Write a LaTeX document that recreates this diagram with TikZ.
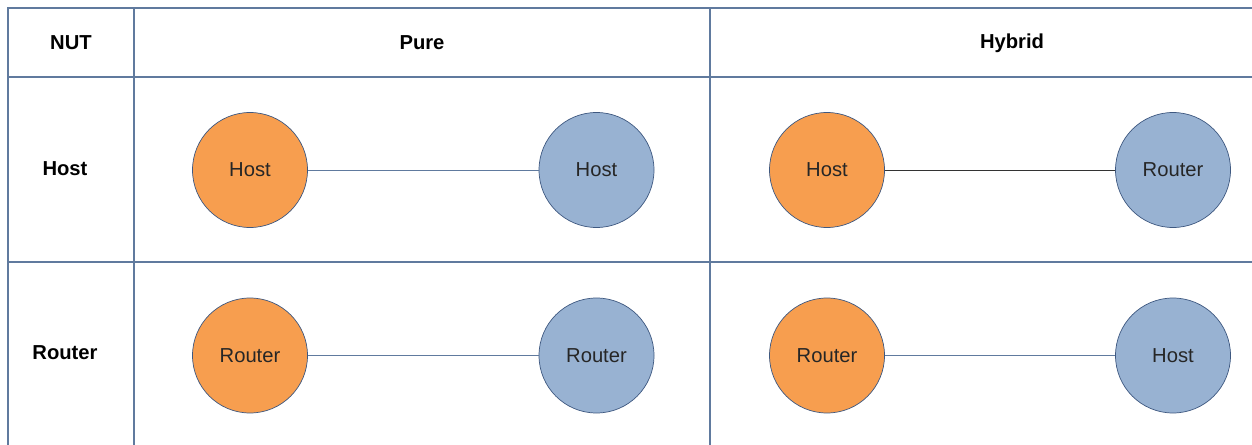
\documentclass[tikz,border=0pt]{standalone}
\usepackage{fontspec}
\setmainfont{Liberation Sans}
\usepackage{xcolor}
\usepackage{tikz}
\usetikzlibrary{positioning,shapes.geometric}

\definecolor{gridline}{RGB}{96,122,158}
\definecolor{nutorange}{RGB}{247,158,79}
\definecolor{peerblue}{RGB}{152,178,210}
\definecolor{rimblue}{RGB}{62,88,128}

\begin{document}
\begin{tikzpicture}[
    head/.style={font=\bfseries\fontsize{11.5}{13}\selectfont, text=black},
    nut/.style={draw=rimblue, circle, thin, fill=nutorange, minimum size=2.3cm, inner sep=0pt, font=\fontsize{11.5}{13}\selectfont, text=black!85},
    peer/.style={nut, fill=peerblue},
    link/.style={draw=gridline, thin},
    grid/.style={draw=gridline, line width=0.7pt}
]
    \useasboundingbox (0,0) rectangle (25.04,-8.9);

    % Table grid (open at right and bottom)
    \draw[grid] (25.04,-0.16) -- (0.16,-0.16) -- (0.16,-8.9);
    \draw[grid] (2.68,-0.16) -- (2.68,-8.9);
    \draw[grid] (14.2,-0.16) -- (14.2,-8.9);
    \draw[grid] (0.16,-1.54) -- (25.04,-1.54);
    \draw[grid] (0.16,-5.24) -- (25.04,-5.24);

    % Column and row headers
    \node[head] (hnut) at (1.42,-0.86) {NUT};
    \node[head] (hpure) at (8.44,-0.86) {Pure};
    \node[head] (hhyb) at (20.24,-0.86) {Hybrid};
    \node[head] (rhost) at (1.3,-3.38) {Host};
    \node[head] (rrouter) at (1.3,-7.06) {Router};

    % Host row
    \node[nut] (ph1) at (5.0,-3.4) {Host};
    \node[peer] (ph2) at (11.93,-3.4) {Host};
    \node[nut] (hh1) at (16.54,-3.4) {Host};
    \node[peer] (hh2) at (23.46,-3.4) {Router};

    % Router row
    \node[nut] (pr1) at (5.0,-7.11) {Router};
    \node[peer] (pr2) at (11.93,-7.11) {Router};
    \node[nut] (hr1) at (16.54,-7.11) {Router};
    \node[peer] (hr2) at (23.46,-7.11) {Host};

    % Links
    \draw[link] (ph1.east) -- (ph2.west);
    \draw[draw=black!80, thin] (hh1.east) -- (hh2.west);
    \draw[link] (pr1.east) -- (pr2.west);
    \draw[link] (hr1.east) -- (hr2.west);

\end{tikzpicture}
\end{document}
